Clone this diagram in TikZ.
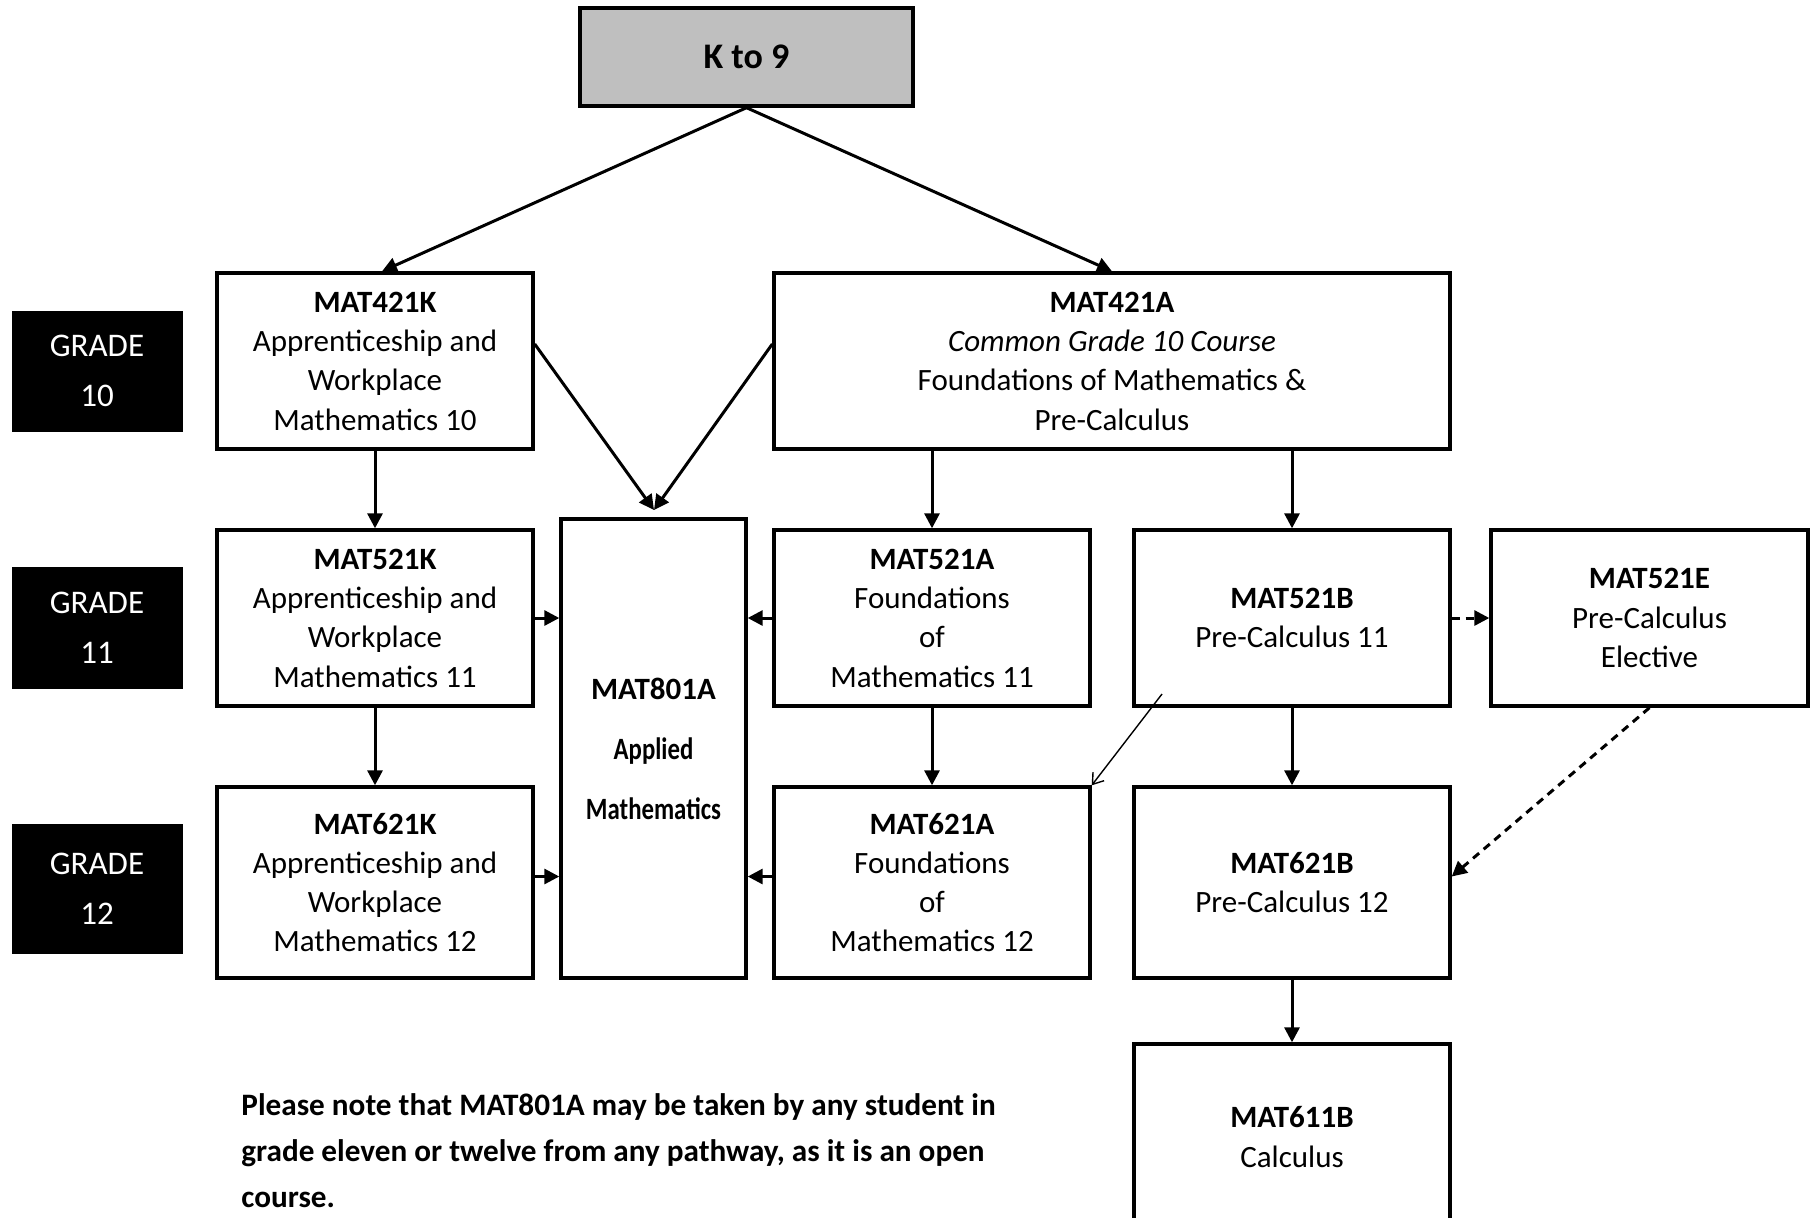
\documentclass[tikz,border=0pt]{standalone}
\usepackage{fontspec}
\setmainfont{Carlito}
\newfontfamily\condfont[FakeStretch=0.8]{Carlito}
\usetikzlibrary{arrows.meta}
\begin{document}
\begin{tikzpicture}[x=0.5pt,y=-0.5pt,
  box/.style={draw, line width=1.7pt, inner sep=0pt, align=center, fill=white,
    font=\fontsize{15.5}{19.65}\selectfont},
  grade/.style={fill=black, text=white, inner sep=0pt, align=center,
    font=\fontsize{16.5}{25}\selectfont},
  arr/.style={line width=1.5pt, -{Triangle[length=7.5pt,width=7.5pt]}},
  darr/.style={arr, dash pattern=on 4pt off 3pt},
  thinarr/.style={line width=0.7pt, -{Straight Barb[length=5pt,width=7pt]}}]
\useasboundingbox (0,0) rectangle (1814,1217);
\clip (0,0) rectangle (1814,1217);
\fill[white] (0,0) rectangle (1814,1217);

% top
\node[box, fill=gray!50, minimum width=166.5pt, minimum height=49pt,
  font=\bfseries\fontsize{18}{22}\selectfont] (k9) at (746.5,57) {K to 9};

% grade labels
\node[grade, minimum width=85.5pt, minimum height=60.5pt] (g10) at (97,371) {GRADE\\10};
\node[grade, minimum width=85.5pt, minimum height=61pt] (g11) at (97,628) {GRADE\\11};
\node[grade, minimum width=85.5pt, minimum height=65pt] (g12) at (97,889) {GRADE\\12};

% grade 10
\node[box, minimum width=158pt, minimum height=88pt] (m421k) at (375,361)
  {\textbf{MAT421K}\\Apprenticeship and\\Workplace\\Mathematics 10};
\node[box, minimum width=338pt, minimum height=88pt] (m421a) at (1112,361)
  {\textbf{MAT421A}\\\textit{Common Grade 10 Course}\\Foundations of Mathematics \&\\Pre-Calculus};

% grade 11
\node[box, minimum width=158pt, minimum height=88pt] (m521k) at (375,618)
  {\textbf{MAT521K}\\Apprenticeship and\\Workplace\\Mathematics 11};
\node[box, minimum width=92.5pt, minimum height=229.5pt,
  font=\fontsize{15.5}{30}\selectfont] (m801a) at (653.5,748.5)
  {\textbf{MAT801A}\\{\condfont\bfseries Applied}\\{\condfont\bfseries Mathematics}};
\node[box, minimum width=158pt, minimum height=88pt] (m521a) at (932,618)
  {\textbf{MAT521A}\\Foundations\\of\\Mathematics 11};
\node[box, minimum width=158pt, minimum height=88pt] (m521b) at (1292,618)
  {\textbf{MAT521B}\\Pre-Calculus 11};
\node[box, minimum width=158.5pt, minimum height=88pt] (m521e) at (1649.5,618)
  {\textbf{MAT521E}\\Pre-Calculus\\Elective};

% grade 12
\node[box, minimum width=158pt, minimum height=95.5pt] (m621k) at (375,882.5)
  {\textbf{MAT621K}\\Apprenticeship and\\Workplace\\Mathematics 12};
\node[box, minimum width=158pt, minimum height=95.5pt] (m621a) at (932,882.5)
  {\textbf{MAT621A}\\Foundations\\of\\Mathematics 12};
\node[box, minimum width=158pt, minimum height=95.5pt] (m621b) at (1292,882.5)
  {\textbf{MAT621B}\\Pre-Calculus 12};

% calculus
\node[box, minimum width=158pt, minimum height=93pt] (m611b) at (1292,1137)
  {\textbf{MAT611B}\\Calculus};

% note
\node[anchor=north west, align=left, inner sep=0pt,
  font=\bfseries\fontsize{15.6}{23}\selectfont] (note) at (241,1093)
  {Please note that MAT801A may be taken by any student in\\grade eleven or twelve from any pathway, as it is an open\\course.};

% connectors
\coordinate (conv) at (654,510);
\coordinate (ts) at (1162,694);
\coordinate (r12k) at ([yshift=3pt]m621k.east);
\coordinate (r12a) at ([yshift=3pt]m621a.west);
\draw[arr] (k9.south) -- ([xshift=3.5pt]m421k.north);
\draw[arr] (k9.south) -- (m421a.north);
\draw[arr] ([yshift=8.5pt]m421k.east) -- (conv);
\draw[arr] ([yshift=8.5pt]m421a.west) -- (conv);
\draw[arr] (m421k.south) -- (m521k.north);
\draw[arr] (m421a.south -| m521a.north) -- (m521a.north);
\draw[arr] (m421a.south -| m521b.north) -- (m521b.north);
\draw[arr] (m521k.east) -- (m801a.west |- m521k.east);
\draw[arr] (m521a.west) -- (m801a.east |- m521a.west);
\draw[darr] (m521b.east) -- (m521e.west);
\draw[arr] (m521k.south) -- (m621k.north);
\draw[arr] (m521a.south) -- (m621a.north);
\draw[arr] (m521b.south) -- (m621b.north);
\draw[thinarr] (ts) -- (m621a.north east);
\draw[darr] (m521e.south) -- ([yshift=3pt]m621b.east);
\draw[arr] (r12k) -- (r12k -| m801a.west);
\draw[arr] (r12a) -- (r12a -| m801a.east);
\draw[arr] (m621b.south) -- (m611b.north);
\end{tikzpicture}
\end{document}
